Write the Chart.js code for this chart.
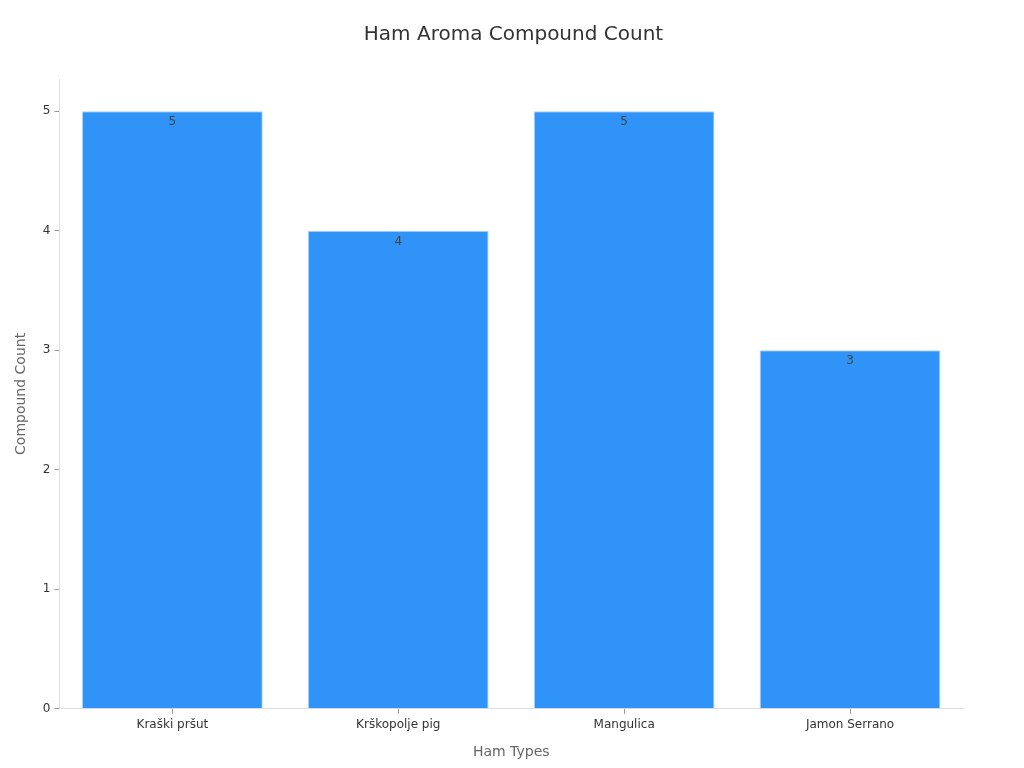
<!DOCTYPE html>
<html>
<head>
<meta charset="utf-8">
<script src="https://cdn.jsdelivr.net/npm/chart.js@4"></script>
<style>
  html, body { margin: 0; padding: 0; background: #fff; }
</style>
</head>
<body>
<canvas id="chart" width="1024" height="768"></canvas>
<script>
const hamTypes = ['Kraški pršut', 'Krškopolje pig', 'Mangulica', 'Jamon Serrano'];
const compoundCounts = [5, 4, 5, 3];
const yTicks = [0, 1, 2, 3, 4, 5];

// simple value labels drawn just inside the top of each bar
const valueLabels = {
    id: 'valueLabels',
    afterDatasetsDraw(chart) {
        const ctx = chart.ctx;
        ctx.save();
        ctx.font = '12px "DejaVu Sans"';
        ctx.fillStyle = '#444';
        ctx.textAlign = 'center';
        ctx.textBaseline = 'middle';
        chart.getDatasetMeta(0).data.forEach((bar, i) => {
            ctx.fillText(compoundCounts[i], bar.x, bar.y + 11);
        });
        ctx.restore();
    }
};

Chart.defaults.font.family = '"DejaVu Sans", sans-serif';

new Chart(document.getElementById('chart'), {
    type: 'bar',
    data: {
        labels: hamTypes,
        datasets: [{
            label: 'Compound Count',
            data: compoundCounts,
            backgroundColor: '#2f93f8',
            borderColor: '#a8d2fb',
            borderWidth: 1,
            barPercentage: 0.8,
            categoryPercentage: 1
        }]
    },
    options: {
        responsive: false,
        animation: false,
        layout: { padding: { left: 9, right: 6, top: 14, bottom: 3 } },
        plugins: {
            legend: { display: false },
            tooltip: { enabled: false },
            title: {
                display: true,
                text: 'Ham Aroma Compound Count',
                color: '#333',
                font: { size: 20, weight: 'normal' },
                padding: { top: 9, bottom: 32 }
            }
        },
        scales: {
            x: {
                grid: { display: true, drawOnChartArea: false, offset: false, color: '#999', tickLength: 5 },
                border: { color: '#ddd' },
                ticks: { color: '#333', font: { size: 12 }, padding: 4 },
                title: { display: true, text: 'Ham Types', color: '#666', font: { size: 14 }, padding: { top: 8 } }
            },
            y: {
                min: 0,
                max: 5.27,
                afterBuildTicks: axis => {
                    axis.ticks = yTicks.map(v => ({ value: v }));
                },
                grid: { display: true, drawOnChartArea: false, color: '#999', tickLength: 5 },
                border: { color: '#ddd' },
                ticks: { color: '#333', font: { size: 12 }, padding: 4 },
                title: { display: true, text: 'Compound Count', color: '#666', font: { size: 14 }, padding: { bottom: 9 } }
            },
            // empty right-hand spacer so the plot ends short of the canvas edge
            spacer: {
                position: 'right',
                display: true,
                grid: { display: false },
                border: { display: false },
                ticks: { display: false },
                afterFit: axis => { axis.width = 55; }
            }
        }
    },
    plugins: [valueLabels]
});
</script>
</body>
</html>
